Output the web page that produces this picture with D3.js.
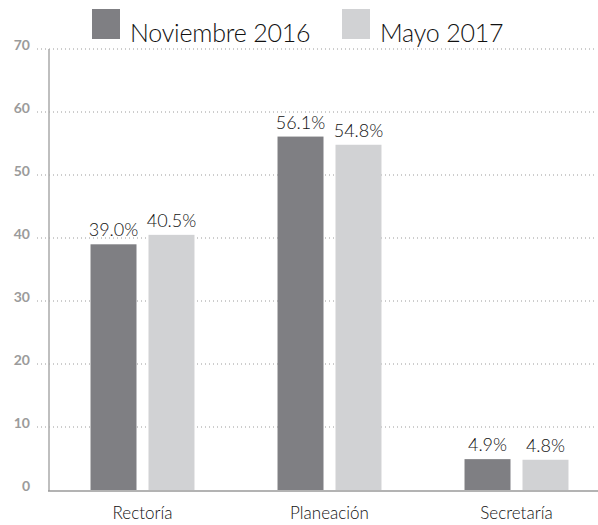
<!DOCTYPE html>
<html><head><meta charset="utf-8">
<script src="https://cdn.jsdelivr.net/npm/d3@7"></script>
<style>body{margin:0;background:#fff}svg{display:block}</style>
</head><body><svg id="c" width="598" height="525"></svg>
<script>
const categories = ["Rectoría", "Planeación", "Secretaría"];
const seriesNames = ["Noviembre 2016", "Mayo 2017"];
const nov2016 = [39.0, 56.1, 4.9];
const mayo2017 = [40.5, 54.8, 4.8];
const yTicks = [0, 10, 20, 30, 40, 50, 60, 70];
const colors = ["#7f7f83", "#d1d2d4"];

const svg = d3.select("#c");
const font = "Lato, 'Open Sans', sans-serif";
const y = d3.scaleLinear().domain([0, 70]).range([490, 49]);
const x0 = d3.scaleBand().domain(categories).range([49, 610]).paddingInner(0.444).paddingOuter(0.222);
const x1 = d3.scaleBand().domain(seriesNames).range([0, x0.bandwidth()]).paddingInner(0.207);

// gridlines
svg.append("g").selectAll("line").data(yTicks.filter(d => d > 0)).join("line")
  .attr("x1", 37).attr("x2", 596).attr("y1", d => y(d)).attr("y2", d => y(d))
  .attr("stroke", "#9a9a9a").attr("stroke-width", 1).attr("stroke-dasharray", "1,3");

// tick labels
svg.append("g").selectAll("text").data(yTicks).join("text")
  .attr("x", 30).attr("y", d => y(d) - 4).attr("dy", "0.35em")
  .attr("text-anchor", "end").attr("font-family", font).attr("font-weight", 700)
  .attr("font-size", 14).attr("fill", "#9b9b9b").text(d => d);

// bars
const data = categories.map((c, i) => ({c, vals: [nov2016[i], mayo2017[i]]}));
const g = svg.append("g").selectAll("g").data(data).join("g")
  .attr("transform", d => `translate(${x0(d.c)},0)`);
g.selectAll("rect").data(d => d.vals.map((v, j) => ({v, s: seriesNames[j], j}))).join("rect")
  .attr("x", d => x1(d.s)).attr("width", x1.bandwidth())
  .attr("y", d => y(d.v)).attr("height", d => y(0) - y(d.v))
  .attr("fill", d => colors[d.j]);
g.selectAll("text").data(d => d.vals.map((v, j) => ({v, s: seriesNames[j], j}))).join("text")
  .attr("x", d => x1(d.s) + x1.bandwidth() / 2).attr("y", d => y(d.v) - 8)
  .attr("text-anchor", "middle").attr("font-family", font).attr("font-weight", 300)
  .attr("font-size", 18).attr("fill", "#111").text(d => d.v.toFixed(1) + "%");

// axes
svg.append("line").attr("x1", 49).attr("x2", 49).attr("y1", 49).attr("y2", 491)
  .attr("stroke", "#aaaaaa").attr("stroke-width", 1.5);
svg.append("line").attr("x1", 48).attr("x2", 598).attr("y1", 491).attr("y2", 491)
  .attr("stroke", "#9a9a9a").attr("stroke-width", 1.5);

// category labels
svg.append("g").selectAll("text").data(categories).join("text")
  .attr("x", d => x0(d) + x0.bandwidth() / 2).attr("y", 519)
  .attr("text-anchor", "middle").attr("font-family", font).attr("font-weight", 300)
  .attr("font-size", 17).attr("fill", "#111").text(d => d);

// legend
const legX = [92, 342];
const lg = svg.append("g").selectAll("g").data(seriesNames).join("g")
  .attr("transform", (d, i) => `translate(${legX[i]},9)`);
lg.append("rect").attr("width", 28).attr("height", 30).attr("fill", (d, i) => colors[i]);
lg.append("text").attr("x", 38).attr("y", 33).attr("font-family", font).attr("font-weight", 300)
  .attr("font-size", 25).attr("letter-spacing", -0.2).attr("fill", "#111").text(d => d);
</script></body></html>
